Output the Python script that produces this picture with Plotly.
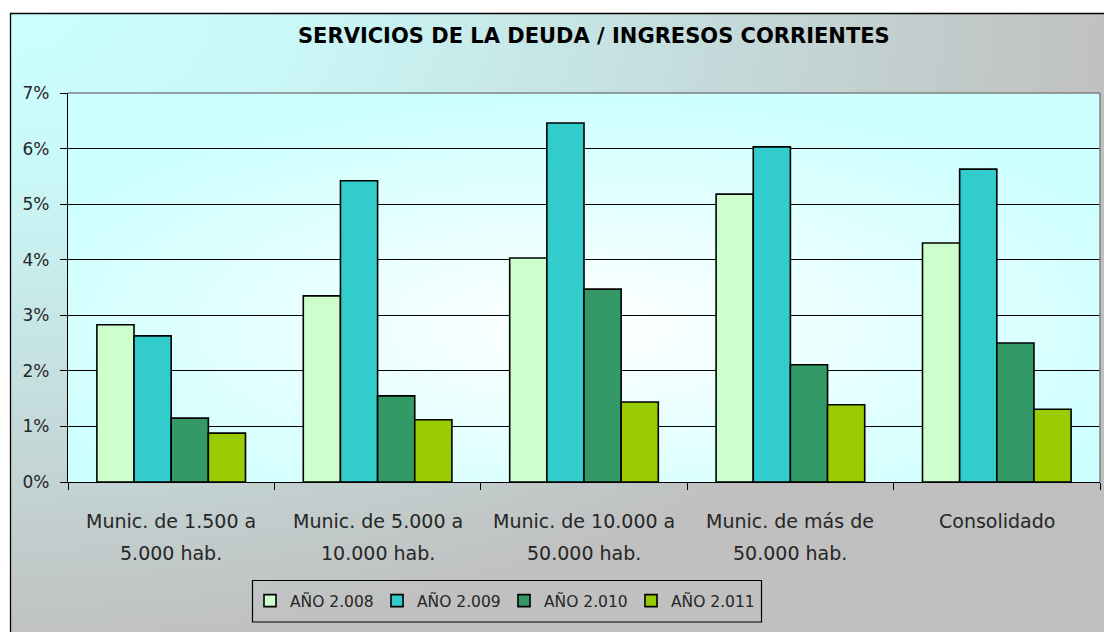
import base64
import plotly.graph_objects as go

categories = ["Munic. de 1.500 a 5.000 hab.", "Munic. de 5.000 a 10.000 hab.",
              "Munic. de 10.000 a 50.000 hab.", "Munic. de más de 50.000 hab.", "Consolidado"]
label_line1 = ["Munic. de 1.500 a", "Munic. de 5.000 a", "Munic. de 10.000 a", "Munic. de más de", "Consolidado"]
label_line2 = ["5.000 hab.", "10.000 hab.", "50.000 hab.", "50.000 hab.", ""]
series_names = ["AÑO 2.008", "AÑO 2.009", "AÑO 2.010", "AÑO 2.011"]
v2008 = [2.83, 3.35, 4.03, 5.18, 4.30]
v2009 = [2.63, 5.42, 6.46, 6.03, 5.63]
v2010 = [1.15, 1.55, 3.47, 2.11, 2.50]
v2011 = [0.88, 1.12, 1.44, 1.39, 1.31]
colors = ["#CCFFCC", "#33CCCC", "#339966", "#99CC00"]
y_ticks = [0, 1, 2, 3, 4, 5, 6, 7]
y_ticktext = ["0%", "1%", "2%", "3%", "4%", "5%", "6%", "7%"]

FONT = "DejaVu Sans"
OFF = 8  # page body margin
W, H = 1112, 632
L, R, T, B = 60, 20, 85, 158
PW, PH = W - L - R, H - T - B


def px_x(p):
    return (p - OFF - L) / PW


def px_y(p):
    return (H - B - (p - OFF)) / PH


def svg_uri(svg):
    return "data:image/svg+xml;base64," + base64.b64encode(svg.encode()).decode()


outer_svg = ('<svg xmlns="http://www.w3.org/2000/svg" width="1100" height="630" preserveAspectRatio="none">'
             '<defs><radialGradient id="g" cx="0" cy="0" r="1.0" fx="0" fy="0">'
             '<stop offset="0" stop-color="#CCFFFF"/><stop offset="0.25" stop-color="#CAF8F8"/>'
             '<stop offset="1" stop-color="#C0C0C0"/></radialGradient></defs>'
             '<rect width="1100" height="630" fill="url(#g)"/></svg>')
plot_svg = ('<svg xmlns="http://www.w3.org/2000/svg" width="1032" height="389" preserveAspectRatio="none">'
            '<defs><radialGradient id="p" cx="0.5" cy="0.6" r="0.6">'
            '<stop offset="0" stop-color="#FFFFFF"/><stop offset="1" stop-color="#CCFFFF"/></radialGradient></defs>'
            '<rect width="1032" height="389" fill="url(#p)"/></svg>')

fig = go.Figure()
for name, vals, col in zip(series_names, [v2008, v2009, v2010, v2011], colors):
    fig.add_trace(go.Bar(x=categories, y=vals, name=name,
                         marker=dict(color=col, line=dict(color="#000000", width=1.6))))

annotations = [dict(text="<b>SERVICIOS DE LA DEUDA / INGRESOS CORRIENTES</b>", x=px_x(594), y=px_y(36),
                    xref="paper", yref="paper", showarrow=False, xanchor="center", yanchor="middle",
                    font=dict(family=FONT, size=21, color="#000000"))]
for c, l1, l2 in zip(categories, label_line1, label_line2):
    annotations.append(dict(text=l1, x=c, y=px_y(521), xref="x", yref="paper", showarrow=False,
                            yanchor="middle", font=dict(family=FONT, size=19, color="#262626")))
    if l2:
        annotations.append(dict(text=l2, x=c, y=px_y(553), xref="x", yref="paper", showarrow=False,
                                yanchor="middle", font=dict(family=FONT, size=19, color="#262626")))

fig.update_layout(
    width=W, height=H,
    margin=dict(l=L, r=R, t=T, b=B),
    paper_bgcolor="#FFFFFF",
    plot_bgcolor="rgba(0,0,0,0)",
    barmode="group", bargap=0.28, bargroupgap=0,
    showlegend=True,
    legend=dict(orientation="h", x=px_x(250), y=px_y(601), xanchor="left", yanchor="middle",
                borderwidth=0, bgcolor="rgba(0,0,0,0)",
                font=dict(family=FONT, size=15.5, color="#262626"), entrywidth=82,
                traceorder="normal"),
    images=[
        dict(source=svg_uri(outer_svg), xref="paper", yref="paper", x=px_x(10), y=px_y(13),
             sizex=(1111 - 10) / PW, sizey=(645 - 13) / PH, sizing="stretch",
             xanchor="left", yanchor="top", layer="below"),
        dict(source=svg_uri(plot_svg), xref="paper", yref="paper", x=0, y=1, sizex=1, sizey=1,
             sizing="stretch", xanchor="left", yanchor="top", layer="below"),
    ],
    shapes=[
        dict(type="rect", xref="paper", yref="paper", x0=px_x(10.5), x1=px_x(1110.5), y0=px_y(645),
             y1=px_y(13.5), line=dict(color="#000000", width=1.3), layer="below"),
        dict(type="rect", xref="paper", yref="paper", x0=px_x(252.5), x1=px_x(761.5), y0=px_y(622),
             y1=px_y(580.5), line=dict(color="#000000", width=1.2), layer="below"),
        dict(type="line", xref="paper", yref="paper", x0=0, x1=1, y0=1, y1=1,
             line=dict(color="#808080", width=1.5)),
        dict(type="line", xref="paper", yref="paper", x0=1, x1=1, y0=0, y1=1,
             line=dict(color="#808080", width=1.5)),
    ],
    annotations=annotations,
    xaxis=dict(showticklabels=False, ticks="outside", ticklen=7, tickcolor="#000000",
               tickson="boundaries", showline=True, linecolor="#000000", linewidth=1.2,
               showgrid=False),
    yaxis=dict(range=[0, 7], tickvals=y_ticks, ticktext=y_ticktext, ticks="outside", ticklen=7,
               tickcolor="#000000", showline=True, linecolor="#000000", linewidth=1.2,
               showgrid=True, gridcolor="#000000", gridwidth=1, zeroline=False,
               ticklabelstandoff=7,
               tickfont=dict(family=FONT, size=17, color="#262626")),
)

fig.write_html("out.html")
